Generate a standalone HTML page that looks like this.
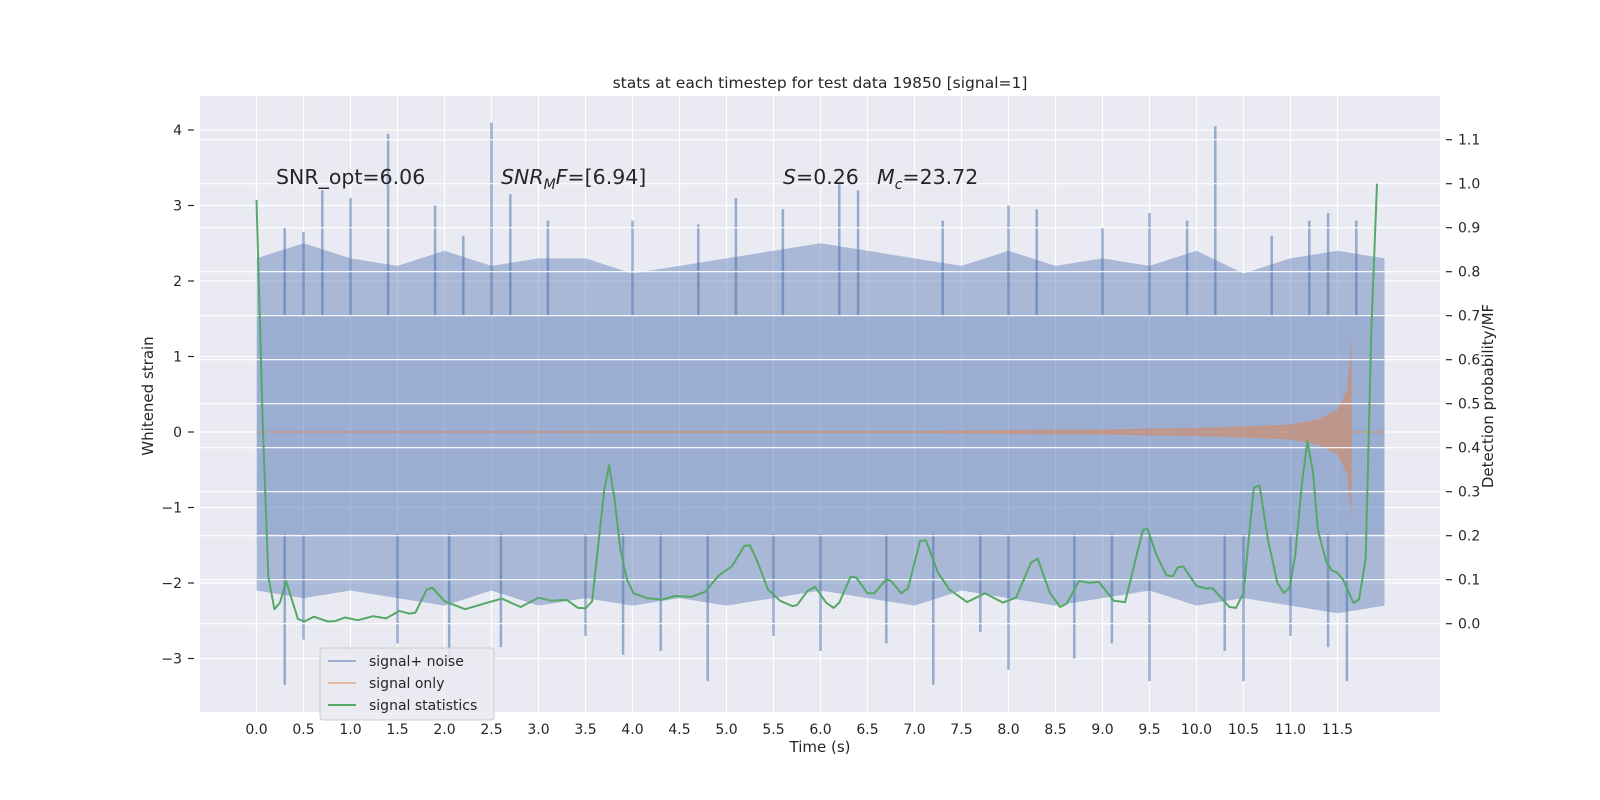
<!DOCTYPE html>
<html><head><meta charset="utf-8"><style>
html,body{margin:0;padding:0;background:#fff;}
svg{display:block;font-family:"DejaVu Sans","Liberation Sans",sans-serif;}
</style></head><body>
<svg id="chart" width="1600" height="800" viewBox="0 0 1600 800" xmlns="http://www.w3.org/2000/svg">
<rect x="0" y="0" width="1600" height="800" fill="#ffffff"/>
<rect x="200" y="96" width="1240" height="616" fill="#eaeaf2"/>
<g id="gridL"></g>
<g id="noise"></g>
<g id="signal"></g>
<g id="gridR"></g>
<g id="stats"></g>
<g id="axes"></g>
<text x="820" y="88" text-anchor="middle" font-size="15.5" fill="#262626">stats at each timestep for test data 19850 [signal=1]</text>
<text x="276" y="184" font-size="20.5" fill="#262626">SNR_opt=6.06</text>
<text x="501" y="184" font-size="20.5" fill="#262626"><tspan font-style="italic">SNR</tspan><tspan font-style="italic" font-size="14" dy="5">M</tspan><tspan font-style="italic" dy="-5">F</tspan>=[6.94]</text>
<text x="783" y="184" font-size="20.5" fill="#262626"><tspan font-style="italic">S</tspan>=0.26</text>
<text x="877" y="184" font-size="20.5" fill="#262626"><tspan font-style="italic">M</tspan><tspan font-style="italic" font-size="14" dy="5">c</tspan><tspan dy="-5">=23.72</tspan></text>
<text x="820" y="752" text-anchor="middle" font-size="15" fill="#262626">Time (s)</text>
<text x="0" y="0" transform="translate(153,396) rotate(-90)" text-anchor="middle" font-size="15" fill="#262626">Whitened strain</text>
<text x="0" y="0" transform="translate(1493,396) rotate(-90)" text-anchor="middle" font-size="15" fill="#262626">Detection probability/MF</text>
<g>
<rect x="320" y="648" width="174" height="72" rx="3" fill="#eaeaf2" fill-opacity="0.85" stroke="#cccccc"/>
<line x1="328" y1="661" x2="356" y2="661" stroke="#4c72b0" stroke-opacity="0.5" stroke-width="2"/>
<text x="369" y="666" font-size="14" fill="#262626">signal+ noise</text>
<line x1="328" y1="683" x2="356" y2="683" stroke="#dd8452" stroke-opacity="0.5" stroke-width="2"/>
<text x="369" y="688" font-size="14" fill="#262626">signal only</text>
<line x1="328" y1="705" x2="356" y2="705" stroke="#55a868" stroke-width="2"/>
<text x="369" y="710" font-size="14" fill="#262626">signal statistics</text>
</g>
</svg>
<script>
const xTicks = [0,0.5,1,1.5,2,2.5,3,3.5,4,4.5,5,5.5,6,6.5,7,7.5,8,8.5,9,9.5,10,10.5,11,11.5];
const leftTicks = [4,3,2,1,0,-1,-2,-3];
const rightTicks = [0,0.1,0.2,0.3,0.4,0.5,0.6,0.7,0.8,0.9,1.0,1.1];
const statT = [0,0.065,0.125,0.19,0.25,0.315,0.44,0.51,0.61,0.76,0.84,0.94,1.08,1.24,1.38,1.52,1.62,1.69,1.81,1.87,2.0,2.22,2.41,2.61,2.81,3.0,3.14,3.30,3.42,3.50,3.57,3.70,3.75,3.81,3.87,3.94,4.01,4.16,4.32,4.45,4.62,4.77,4.92,5.06,5.19,5.25,5.32,5.44,5.57,5.70,5.75,5.86,5.94,6.06,6.14,6.20,6.32,6.38,6.50,6.57,6.70,6.75,6.86,6.93,7.06,7.12,7.25,7.37,7.56,7.75,7.94,8.08,8.24,8.31,8.44,8.55,8.62,8.75,8.86,8.96,9.12,9.24,9.43,9.48,9.57,9.68,9.75,9.80,9.86,10.0,10.10,10.17,10.35,10.42,10.50,10.61,10.67,10.76,10.86,10.93,10.99,11.05,11.12,11.18,11.24,11.29,11.38,11.44,11.49,11.56,11.67,11.73,11.80,11.86,11.92];
const statV = [0.963,0.464,0.108,0.033,0.048,0.097,0.011,0.005,0.016,0.005,0.006,0.014,0.008,0.017,0.012,0.029,0.023,0.025,0.077,0.082,0.051,0.033,0.045,0.057,0.038,0.059,0.052,0.054,0.036,0.035,0.051,0.305,0.36,0.283,0.169,0.101,0.069,0.058,0.055,0.063,0.061,0.072,0.110,0.131,0.177,0.178,0.146,0.078,0.052,0.040,0.042,0.074,0.084,0.048,0.036,0.048,0.107,0.105,0.069,0.069,0.101,0.097,0.069,0.080,0.188,0.190,0.116,0.078,0.049,0.069,0.048,0.059,0.139,0.148,0.070,0.038,0.046,0.097,0.093,0.095,0.052,0.049,0.213,0.216,0.158,0.110,0.108,0.128,0.130,0.086,0.080,0.081,0.038,0.036,0.070,0.309,0.314,0.192,0.093,0.070,0.082,0.155,0.316,0.415,0.343,0.214,0.141,0.121,0.117,0.100,0.047,0.055,0.149,0.665,1.0];
const envT = [0,0.5,1,1.5,2,2.5,3,3.5,4,4.5,5,5.5,6,6.5,7,7.5,8,8.5,9,9.5,10,10.5,11,11.5,12];
const upperEnv = [2.3,2.5,2.3,2.2,2.4,2.2,2.3,2.3,2.1,2.2,2.3,2.4,2.5,2.4,2.3,2.2,2.4,2.2,2.3,2.2,2.4,2.1,2.3,2.4,2.3];
const lowerEnv = [-2.1,-2.2,-2.1,-2.2,-2.3,-2.1,-2.3,-2.2,-2.3,-2.2,-2.3,-2.2,-2.1,-2.2,-2.3,-2.1,-2.2,-2.3,-2.2,-2.1,-2.3,-2.2,-2.3,-2.4,-2.3];
const upSpikeT = [0.3,0.5,0.7,1.0,1.4,1.9,2.2,2.5,2.7,3.1,4.0,4.7,5.1,5.6,6.2,6.4,7.3,8.0,8.3,9.0,9.5,9.9,10.2,10.8,11.2,11.4,11.7];
const upSpikeV = [2.7,2.65,3.2,3.1,3.95,3.0,2.6,4.1,3.15,2.8,2.8,2.75,3.1,2.95,3.3,3.2,2.8,3.0,2.95,2.7,2.9,2.8,4.05,2.6,2.8,2.9,2.8];
const lowSpikeT = [0.3,0.5,1.5,2.05,2.6,3.5,3.9,4.3,4.8,5.5,6.0,6.7,7.2,7.7,8.0,8.7,9.1,9.5,10.3,10.5,11.0,11.4,11.6];
const lowSpikeV = [-3.35,-2.75,-2.8,-3.05,-2.85,-2.7,-2.95,-2.9,-3.3,-2.7,-2.9,-2.8,-3.35,-2.65,-3.15,-3.0,-2.8,-3.3,-2.9,-3.3,-2.7,-2.85,-3.3];
const coreTop = 1.54, coreBottom = -1.35, noiseStart = 0, noiseEnd = 12.0;
const sigT = [0,7.0,8.0,9.0,9.5,10.0,10.5,11.0,11.3,11.5,11.6,11.65];
const sigUp = [0.01,0.015,0.025,0.035,0.045,0.055,0.075,0.1,0.17,0.3,0.55,1.24];
const sigLow = [-0.01,-0.015,-0.025,-0.035,-0.045,-0.055,-0.075,-0.1,-0.17,-0.3,-0.55,-1.14];

const NS='http://www.w3.org/2000/svg';
const sx = t => 256.5 + 94*t;
const yl = v => 432 - 75.5*v;
const yr = v => 623.7 - 440*v;
function mk(tag, attrs, parent){const e=document.createElementNS(NS,tag);for(const k in attrs)e.setAttribute(k,attrs[k]);parent.appendChild(e);return e;}
const gL=document.getElementById('gridL'), gR=document.getElementById('gridR'), ax=document.getElementById('axes');
const noise=document.getElementById('noise'), sig=document.getElementById('signal'), st=document.getElementById('stats');

xTicks.forEach(t=>{
  const l=mk('line',{x1:sx(t),x2:sx(t),y1:96,y2:712,stroke:'#fff','stroke-width':1.2},gL);
  
  
  const tx=mk('text',{x:sx(t),y:734,'text-anchor':'middle','font-size':14,fill:'#262626'},ax);
  tx.textContent=t.toFixed(1);
  
  
});
leftTicks.forEach(v=>{
  const l=mk('line',{x1:200,x2:1440,y1:yl(v),y2:yl(v),stroke:'#fff','stroke-width':1.2},gL);
  
  
  mk('line',{x1:188,x2:194,y1:yl(v),y2:yl(v),stroke:'#262626','stroke-width':1.2},ax);
  const tx=mk('text',{x:182,y:yl(v)+5,'text-anchor':'end','font-size':14,fill:'#262626'},ax);
  tx.textContent=v<0?'\u2212'+Math.abs(v):String(v);
  
  
});
rightTicks.forEach(v=>{
  const l=mk('line',{x1:200,x2:1440,y1:yr(v),y2:yr(v),stroke:'#fff','stroke-width':1.2},gR);
  
  
  mk('line',{x1:1446,x2:1452,y1:yr(v),y2:yr(v),stroke:'#262626','stroke-width':1.2},ax);
  const tx=mk('text',{x:1458,y:yr(v)+5,'font-size':14,fill:'#262626'},ax);
  tx.textContent=v.toFixed(1);
  
  
});

const core=mk('rect',{x:sx(noiseStart),y:yl(coreTop),width:sx(noiseEnd)-sx(noiseStart),height:yl(coreBottom)-yl(coreTop),fill:'#4c72b0','fill-opacity':0.5},noise);


let up='M'+sx(envT[0])+','+yl(coreTop);
envT.forEach((t,i)=>{up+=' L'+sx(t)+','+yl(upperEnv[i]);});
up+=' L'+sx(envT[envT.length-1])+','+yl(coreTop)+' Z';
const pu=mk('path',{d:up,fill:'#4c72b0','fill-opacity':0.42},noise);


let lo='M'+sx(envT[0])+','+yl(coreBottom);
envT.forEach((t,i)=>{lo+=' L'+sx(t)+','+yl(lowerEnv[i]);});
lo+=' L'+sx(envT[envT.length-1])+','+yl(coreBottom)+' Z';
const pl=mk('path',{d:lo,fill:'#4c72b0','fill-opacity':0.42},noise);


upSpikeT.forEach((t,i)=>{
  const l=mk('line',{x1:sx(t),x2:sx(t),y1:yl(coreTop),y2:yl(upSpikeV[i]),stroke:'#4c72b0','stroke-opacity':0.55,'stroke-width':2.5},noise);
  
  
});
lowSpikeT.forEach((t,i)=>{
  const l=mk('line',{x1:sx(t),x2:sx(t),y1:yl(coreBottom),y2:yl(lowSpikeV[i]),stroke:'#4c72b0','stroke-opacity':0.55,'stroke-width':2.5},noise);
  
  
});

let sp='M'+sx(sigT[0])+','+yl(sigUp[0]);
sigT.forEach((t,i)=>{sp+=' L'+sx(t)+','+yl(sigUp[i]);});
for(let i=sigT.length-1;i>=0;i--) sp+=' L'+sx(sigT[i])+','+yl(sigLow[i]);
sp+=' Z';
const sEnv=mk('path',{d:sp,fill:'#dd8452','fill-opacity':0.55},sig);


const sTail=mk('line',{x1:sx(sigT[sigT.length-1]),x2:sx(noiseEnd),y1:yl(0),y2:yl(0),stroke:'#dd8452','stroke-opacity':0.6,'stroke-width':1.5},sig);



const pts=statT.map((t,i)=>sx(t).toFixed(1)+','+yr(statV[i]).toFixed(1)).join(' ');
const pline=mk('polyline',{points:pts,fill:'none',stroke:'#55a868','stroke-width':2,'stroke-linejoin':'round'},st);


</script>
</body></html>
